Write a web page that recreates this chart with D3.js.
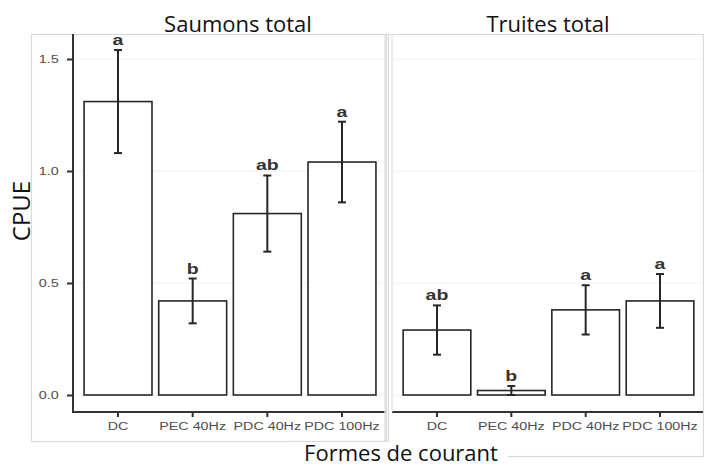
<!DOCTYPE html>
<html>
<head>
<meta charset="utf-8">
<script src="https://cdn.jsdelivr.net/npm/d3@7/dist/d3.min.js"></script>
<style>
  html, body { margin: 0; padding: 0; background: #fff; }
  svg { display: block; }
</style>
</head>
<body>
<svg id="chart" width="704" height="466"></svg>
<script>
// Capture per unit effort (CPUE) by electric current form
const categories = ["DC", "PEC 40Hz", "PDC 40Hz", "PDC 100Hz"];
const panelTitles = ["Saumons total", "Truites total"];
const saumonsMean = [1.31, 0.42, 0.81, 1.04];
const saumonsErr  = [0.23, 0.10, 0.17, 0.18];
const saumonsLetters = ["a", "b", "ab", "a"];
const truitesMean = [0.29, 0.02, 0.38, 0.42];
const truitesErr  = [0.11, 0.02, 0.11, 0.12];
const truitesLetters = ["ab", "b", "a", "a"];
const yTicks = [0.0, 0.5, 1.0, 1.5];
const yLabel = "CPUE";
const xLabel = "Formes de courant";

const svg = d3.select("#chart");

const y = d3.scaleLinear().domain([0, 1.5]).range([395, 59]);
const yTop = 34, yBottom = 412;
const stretch = "scale(1.3,1)"; // wide-set small labels

const panels = [
  { title: panelTitles[0], mean: saumonsMean, err: saumonsErr, letters: saumonsLetters,
    frame: [31, 34, 386, 441], axisX: 73, axisRight: 386, band: [80.7, 379.3], titleX: 238, showY: true },
  { title: panelTitles[1], mean: truitesMean, err: truitesErr, letters: truitesLetters,
    frame: [388, 34, 703, 456], axisX: 392, axisRight: 703, band: [399.8, 697.2], titleX: 548, showY: false }
];

panels.forEach(p => {
  const g = svg.append("g");
  const [fx0, fy0, fx1, fy1] = p.frame;

  // light frame around each panel
  g.append("rect")
    .attr("x", fx0 + 0.5).attr("y", fy0 + 0.5)
    .attr("width", fx1 - fx0).attr("height", fy1 - fy0)
    .attr("fill", "#fff").attr("stroke", "#d9d9d9").attr("stroke-width", 1.2);

  const x = d3.scaleBand().domain(categories).range(p.band).paddingInner(0.09).paddingOuter(0.045);

  // faint horizontal grid
  g.selectAll(".grid").data(yTicks).join("line")
    .attr("x1", p.axisX).attr("x2", p.axisRight - 1)
    .attr("y1", d => y(d)).attr("y2", d => y(d))
    .attr("stroke", "#f0f0f0").attr("stroke-width", 1);

  // bars
  g.selectAll(".bar").data(p.mean).join("rect")
    .attr("x", (d, i) => x(categories[i]))
    .attr("width", x.bandwidth())
    .attr("y", d => y(d))
    .attr("height", d => y(0) - y(d))
    .attr("fill", "#fff").attr("stroke", "#262626").attr("stroke-width", 1.6);

  // error bars
  const eb = g.selectAll(".eb").data(p.mean).join("g")
    .attr("transform", (d, i) => `translate(${x(categories[i]) + x.bandwidth() / 2},0)`);
  eb.append("line")
    .attr("y1", (d, i) => y(d + p.err[i])).attr("y2", (d, i) => y(Math.max(0, d - p.err[i])))
    .attr("stroke", "#262626").attr("stroke-width", 2);
  eb.append("line")
    .attr("x1", -4).attr("x2", 4)
    .attr("y1", (d, i) => y(d + p.err[i])).attr("y2", (d, i) => y(d + p.err[i]))
    .attr("stroke", "#262626").attr("stroke-width", 2);
  eb.append("line")
    .attr("x1", -4).attr("x2", 4)
    .attr("y1", (d, i) => y(Math.max(0, d - p.err[i]))).attr("y2", (d, i) => y(Math.max(0, d - p.err[i])))
    .attr("stroke", "#262626").attr("stroke-width", 2);
  eb.append("g")
    .attr("transform", (d, i) => `translate(0,${y(d + p.err[i]) - 5}) ${stretch}`)
    .append("text")
    .attr("text-anchor", "middle")
    .attr("font-family", "Liberation Sans, Arial, sans-serif")
    .attr("font-weight", "bold")
    .attr("font-size", 15)
    .attr("fill", "#333")
    .text((d, i) => p.letters[i]);

  // x axis
  const xAxis = d3.axisBottom(x).tickSize(4).tickPadding(5).tickSizeOuter(0);
  const gx = g.append("g").attr("transform", `translate(0,${yBottom})`).call(xAxis);
  gx.select(".domain").remove();
  gx.append("line").attr("x1", p.axisX).attr("x2", p.axisRight)
    .attr("stroke", "#333").attr("stroke-width", 2);
  gx.selectAll(".tick line").attr("stroke", "#333").attr("stroke-width", 2).attr("y2", 5);
  gx.selectAll(".tick text")
    .attr("font-family", "Liberation Sans, Arial, sans-serif")
    .attr("font-size", 11).attr("fill", "#4d4d4d").attr("dy", "0.71em").attr("y", 10)
    .attr("transform", stretch);

  // y axis
  if (p.showY) {
    const yAxis = d3.axisLeft(y).tickValues(yTicks).tickFormat(d3.format(".1f")).tickSize(6).tickPadding(0);
    const gy = g.append("g").attr("transform", `translate(${p.axisX},0)`).call(yAxis);
    gy.select(".domain").remove();
    gy.append("line").attr("y1", yTop).attr("y2", yBottom + 1)
      .attr("stroke", "#333").attr("stroke-width", 2);
    gy.selectAll(".tick line").attr("stroke", "#333").attr("stroke-width", 2);
    gy.selectAll(".tick text")
      .attr("font-family", "Liberation Sans, Arial, sans-serif")
      .attr("font-size", 11).attr("fill", "#4d4d4d")
      .attr("x", -9.5)
      .attr("transform", "translate(-2,0) " + stretch);
  } else {
    g.append("line").attr("x1", p.axisX).attr("x2", p.axisX)
      .attr("y1", yTop).attr("y2", yBottom)
      .attr("stroke", "#e6e6e6").attr("stroke-width", 1.5);
  }

  // panel title
  g.append("text")
    .attr("x", p.titleX).attr("y", 32)
    .attr("text-anchor", "middle")
    .attr("font-family", "Open Sans, sans-serif")
    .attr("font-size", 22)
    .attr("fill", "#111")
    .text(p.title);
});

// divider between panels
svg.append("line").attr("x1", 385).attr("x2", 385).attr("y1", 34).attr("y2", 441)
  .attr("stroke", "#e0e0e0").attr("stroke-width", 1.5);

// axis titles
const xt = svg.append("g");
xt.append("rect").attr("x", 294).attr("y", 442).attr("width", 214).attr("height", 24).attr("fill", "#fff");
xt.append("text")
  .attr("x", 401).attr("y", 461)
  .attr("text-anchor", "middle")
  .attr("font-family", "Open Sans, sans-serif")
  .attr("font-size", 22)
  .attr("fill", "#111")
  .text(xLabel);

svg.append("text")
  .attr("transform", "translate(30,211) rotate(-90)")
  .attr("text-anchor", "middle")
  .attr("font-family", "Open Sans, sans-serif")
  .attr("font-size", 24)
  .attr("fill", "#111")
  .text(yLabel);
</script>
</body>
</html>
